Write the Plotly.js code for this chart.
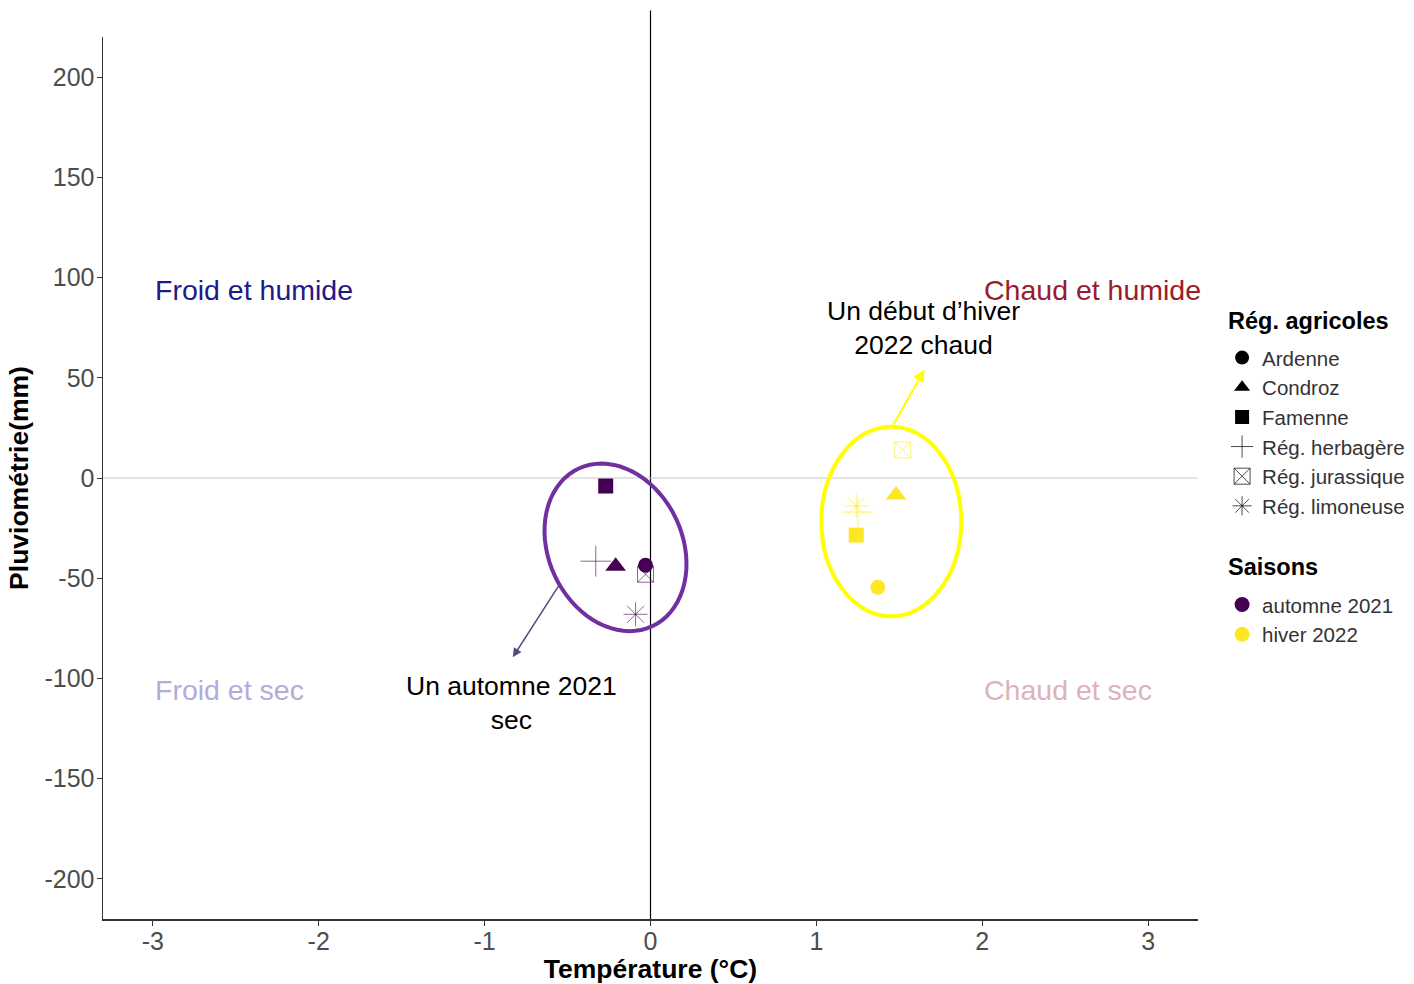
<!DOCTYPE html>
<html>
<head>
<meta charset="utf-8">
<script src="https://cdn.plot.ly/plotly-3.0.1.min.js"></script>
<style>html,body{margin:0;padding:0;background:#fff}#chart{width:1414px;height:984px}</style>
</head>
<body>
<div id="chart"></div>
<script>
const regions = ['Ardenne', 'Condroz', 'Famenne', 'Rég. herbagère', 'Rég. jurassique', 'Rég. limoneuse'];
const regionSymbols = ['circle', 'triangle-up', 'square', 'cross-thin-open', 'square-x-open', 'asterisk-open'];
const regionSizes = [15, 18, 15, 22, 16, 20];
const seasons = ['automne 2021', 'hiver 2022'];
const seasonColors = ['#440154', '#FDE725'];
const tempAutomne = [-0.03, -0.21, -0.27, -0.33, -0.03, -0.09];
const pluvioAutomne = [-43.5, -44, -4, -41.5, -48, -68];
const tempHiver = [1.37, 1.48, 1.24, 1.25, 1.52, 1.24];
const pluvioHiver = [-54.5, -8.5, -28.5, -17, 14, -14];
const xTicks = [-3, -2, -1, 0, 1, 2, 3];
const yTicks = [-200, -150, -100, -50, 0, 50, 100, 150, 200];

const xRange = [-3.3, 3.3];
const yRange = [-220, 220];
const W = 1414, H = 984, mL = 103, mR = 216, mT = 37, mB = 65;
const pxX = (W - mL - mR) / (xRange[1] - xRange[0]);
const pxY = (H - mT - mB) / (yRange[1] - yRange[0]);

function ellipsePath(cx, cy, aPx, bPx, angDeg) {
  const t = angDeg * Math.PI / 180;
  let d = '';
  for (let i = 0; i <= 72; i++) {
    const u = i / 72 * 2 * Math.PI;
    const ex = aPx * Math.cos(u), ey = bPx * Math.sin(u);
    const rx = ex * Math.cos(t) - ey * Math.sin(t);
    const ry = ex * Math.sin(t) + ey * Math.cos(t);
    const x = cx + rx / pxX, y = cy - ry / pxY;
    d += (i === 0 ? 'M' : 'L') + x.toFixed(4) + ',' + y.toFixed(3);
  }
  return d + 'Z';
}

const traces = [];
const seasonData = [[tempAutomne, pluvioAutomne], [tempHiver, pluvioHiver]];
seasonData.forEach((sd, s) => {
  regions.forEach((r, i) => {
    const open = regionSymbols[i].endsWith('-open');
    traces.push({
      type: 'scatter', mode: 'markers', x: [sd[0][i]], y: [sd[1][i]],
      name: r + ' ' + seasons[s], showlegend: false, hoverinfo: 'skip',
      marker: {symbol: regionSymbols[i], size: regionSizes[i], color: seasonColors[s],
               opacity: open ? 0.6 : 1,
               line: {color: seasonColors[s], width: open ? 1 : 0}}
    });
  });
});
regions.forEach((r, i) => {
  const open = regionSymbols[i].endsWith('-open');
  traces.push({
    type: 'scatter', mode: 'markers', x: [null], y: [null], name: r, legend: 'legend',
    marker: {symbol: regionSymbols[i], size: open ? 18 : 14, color: '#000',
             opacity: open ? 0.7 : 1, line: {color: '#000', width: open ? 1 : 0}}
  });
});
seasons.forEach((s, i) => {
  traces.push({
    type: 'scatter', mode: 'markers', x: [null], y: [null], name: s, legend: 'legend2',
    marker: {symbol: 'circle', size: 15, color: seasonColors[i]}
  });
});

const F = 'Liberation Sans, Arial';
const quad = [
  {t: 'Froid et humide', x: -3, y: 94, c: '#1f1a8a'},
  {t: 'Chaud et humide', x: 2, y: 94, c: '#9a1c2a'},
  {t: 'Froid et sec', x: -3, y: -106, c: '#b3acd9'},
  {t: 'Chaud et sec', x: 2, y: -106, c: '#dcb3bb'}
];
const annotations = quad.map(q => ({
  x: q.x, y: q.y, xref: 'x', yref: 'y', text: q.t, showarrow: false,
  xanchor: 'left', yanchor: 'middle', font: {family: F, size: 28.5, color: q.c}
}));
annotations.push({
  x: -0.83, y: -89.4, ax: -0.548, ay: -53.1, xref: 'x', yref: 'y', axref: 'x', ayref: 'y',
  text: '', showarrow: true, arrowhead: 2, arrowsize: 1.2, arrowwidth: 1.5, arrowcolor: '#5b4a80'
});
annotations.push({
  x: 1.651, y: 54.1, ax: 1.458, ay: 25.7, xref: 'x', yref: 'y', axref: 'x', ayref: 'y',
  text: '', showarrow: true, arrowhead: 2, arrowsize: 1.2, arrowwidth: 2, arrowcolor: '#FFFF00'
});
annotations.push({
  x: -0.84, y: -112, xref: 'x', yref: 'y', text: 'Un automne 2021<br>sec', showarrow: false,
  align: 'center', xanchor: 'center', yanchor: 'middle',
  font: {family: F, size: 26.5, color: '#000'}
});
annotations.push({
  x: 1.645, y: 75, xref: 'x', yref: 'y', text: 'Un début d’hiver<br>2022 chaud', showarrow: false,
  align: 'center', xanchor: 'center', yanchor: 'middle',
  font: {family: F, size: 26.5, color: '#000'}
});
annotations.push({
  x: 1.0256, y: 0.678, xref: 'paper', yref: 'paper', text: '<b>Rég. agricoles</b>', showarrow: false,
  xanchor: 'left', yanchor: 'middle', font: {family: F, size: 23.5, color: '#000'}
});
annotations.push({
  x: 1.0256, y: 0.399, xref: 'paper', yref: 'paper', text: '<b>Saisons</b>', showarrow: false,
  xanchor: 'left', yanchor: 'middle', font: {family: F, size: 23.5, color: '#000'}
});

const shapes = [
  {type: 'line', xref: 'x', yref: 'y', x0: xRange[0], x1: xRange[1], y0: 0, y1: 0,
   line: {color: '#c8c8c8', width: 1.2}, layer: 'below'},
  {type: 'line', xref: 'x', yref: 'paper', x0: 0, x1: 0, y0: 0, y1: 1.03,
   line: {color: '#000', width: 1.2}, layer: 'below'},
  {type: 'path', xref: 'x', yref: 'y', path: ellipsePath(-0.211, -34.6, 87, 67, 65),
   line: {color: '#7030A0', width: 4}},
  {type: 'circle', xref: 'x', yref: 'y', x0: 1.03, x1: 1.873, y0: -69, y1: 25.6,
   line: {color: '#FFFF00', width: 4}}
];

const axisFont = {family: F, size: 25, color: '#4d4d4d'};
const layout = {
  width: W, height: H,
  margin: {l: mL, r: mR, t: mT, b: mB, pad: 0, autoexpand: false},
  paper_bgcolor: '#fff', plot_bgcolor: '#fff',
  font: {family: F},
  xaxis: {range: xRange, tickvals: xTicks, ticktext: xTicks.map(String), showgrid: false, zeroline: false,
          showline: true, linecolor: '#333', linewidth: 1.5, ticks: 'outside', ticklen: 5, tickcolor: '#333',
          tickfont: axisFont, ticklabelstandoff: -6,
          title: {text: '<b>Température (°C)</b>', standoff: 6,
                  font: {family: F, size: 26.5, color: '#000'}}},
  yaxis: {range: yRange, tickvals: yTicks, ticktext: yTicks.map(String), showgrid: false, zeroline: false,
          showline: true, linecolor: '#333', linewidth: 1.5, ticks: 'outside', ticklen: 5, tickcolor: '#333',
          tickfont: axisFont, ticklabelstandoff: -3,
          title: {text: '<b>Pluviométrie(mm)</b>', standoff: 8,
                  font: {family: F, size: 26.5, color: '#000'}}},
  legend: {x: 1.022, y: 0.659, xanchor: 'left', yanchor: 'top', bgcolor: 'rgba(0,0,0,0)',
           font: {size: 20.5, color: '#333'}, itemwidth: 30, tracegroupgap: 0},
  legend2: {x: 1.022, y: 0.379, xanchor: 'left', yanchor: 'top', bgcolor: 'rgba(0,0,0,0)',
            font: {size: 20.5, color: '#333'}, itemwidth: 30},
  showlegend: true,
  shapes: shapes,
  annotations: annotations
};
Plotly.newPlot('chart', traces, layout, {displayModeBar: false, staticPlot: true});
</script>
</body>
</html>
